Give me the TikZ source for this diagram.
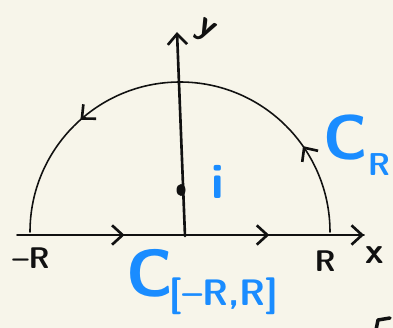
\documentclass[tikz,border=0pt]{standalone}
\usetikzlibrary{arrows.meta,decorations.markings}
\definecolor{paper}{HTML}{F7F5EA}
\definecolor{ink}{HTML}{111111}
\definecolor{pen}{HTML}{1A8CFF}
\tikzset{mybarb/.tip={Straight Barb[length=6pt,width=11pt,line width=1.5pt]}}
\begin{document}
\begin{tikzpicture}[x=0.02cm,y=-0.02cm, line cap=round, line join=round,
  inkline/.style={draw=ink, line width=0.9pt},
  blacklbl/.style={text=ink, font=\sffamily\bfseries\fontsize{17}{17}\selectfont, inner sep=0pt},
  bluelbl/.style={text=pen, font=\sffamily\bfseries\fontsize{18}{18}\selectfont, inner sep=0pt},
  bigC/.style={text=pen, font=\sffamily\bfseries\fontsize{36}{36}\selectfont, inner sep=0pt}]
\useasboundingbox[fill=paper] (0,0) rectangle (393,328);
% x-axis with direction marks
\draw[inkline, postaction={decorate}, decoration={markings,
   mark=at position 0.31 with {\arrow[ink]{mybarb}},
   mark=at position 0.727 with {\arrow[ink]{mybarb}},
   mark=at position 1 with {\arrow[ink]{mybarb}}}]
   (17,235) coordinate (xl) -- (364,235) coordinate (xr);
% y-axis
\draw[draw=ink, line width=1.5pt, -mybarb]
   (185,236) coordinate (yb) -- (177,32) coordinate (yt);
% semicircle C_R, traversed counterclockwise
\draw[inkline, postaction={decorate}, decoration={markings,
   mark=at position 0.194 with {\arrow[ink]{mybarb}},
   mark=at position 0.731 with {\arrow[ink]{mybarb}}}]
   (330,232) coordinate (ar) arc[start angle=360, end angle=180, radius=150] coordinate (al);
% the point i
\fill[ink] (181,190) ellipse[x radius=4.5, y radius=6];
\node[bluelbl, font=\sffamily\bfseries\fontsize{28}{28}\selectfont] (ilbl) at (218,182) {i};
% labels
\node[blacklbl] (mR) at (31,258) {--R};
\node[blacklbl] (pR) at (325,261) {R};
\node[blacklbl, font=\sffamily\bfseries\fontsize{21}{21}\selectfont] (xlbl) at (375,255) {x};
\node[blacklbl, font=\sffamily\bfseries\fontsize{20}{20}\selectfont, rotate=-30] (ylbl) at (205,31) {y};
\node[bigC] (CR) at (346,138) {C};
\node[bluelbl] (CRsub) at (379,165) {R};
\node[bigC, font=\sffamily\bfseries\fontsize{38}{38}\selectfont] (CI) at (150,273) {C};
\node[bluelbl, font=\sffamily\bfseries\fontsize{21}{21}\selectfont] (CIsub) at (224,296) {[--R,R]};
% cut-off stroke at the bottom right
\draw[draw=ink, line width=2pt] (376,330) -- (378,320) -- (390,318);
\end{tikzpicture}
\end{document}
